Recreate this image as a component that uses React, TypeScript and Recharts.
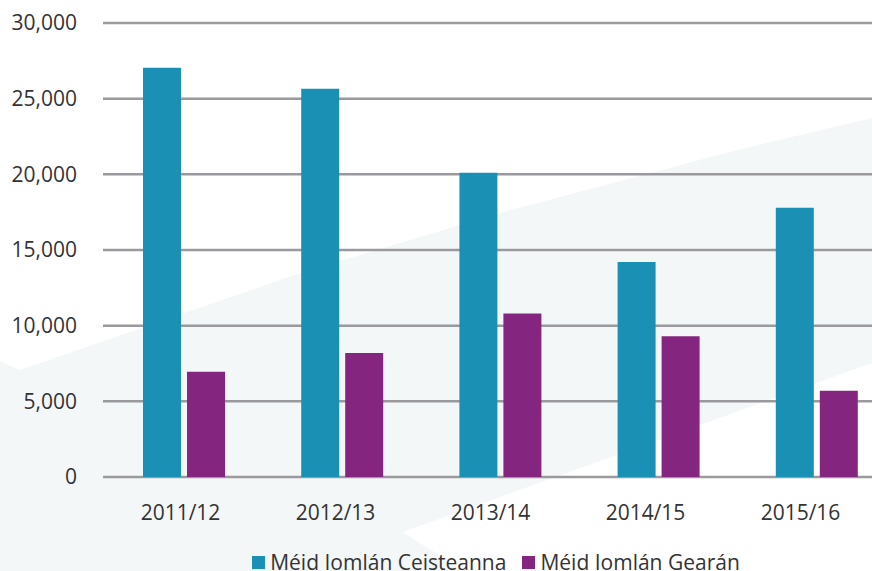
import { BarChart, Bar, XAxis, YAxis, CartesianGrid, Legend } from "recharts";

const years = ["2011/12", "2012/13", "2013/14", "2014/15", "2015/16"];
const ceisteanna = [27050, 25650, 20100, 14200, 17800];
const gearan = [6950, 8200, 10800, 9300, 5700];
const yTicks = [0, 5000, 10000, 15000, 20000, 25000, 30000];

const SERIES_A = "Méid Iomlán Ceisteanna";
const SERIES_B = "Méid Iomlán Gearán";
const TEAL = "#1a91b4";
const PURPLE = "#84267f";
const FONT = "'Open Sans', sans-serif";

const data = years.map((year, i) => ({
  year,
  [SERIES_A]: ceisteanna[i],
  [SERIES_B]: gearan[i],
}));

// decorative backdrop (light slanted band behind the plot)
const BACKDROP =
  "0,361 20,370 300,273 500,213 737,150 872,118 872,363 403,532 463,571 0,571";

function LegendRow() {
  const items = [
    { name: SERIES_A, color: TEAL },
    { name: SERIES_B, color: PURPLE },
  ];
  return (
    <div
      style={{
        paddingLeft: 96,
        display: "flex",
        justifyContent: "center",
        alignItems: "center",
        gap: 16,
        height: 34,
        fontFamily: FONT,
        fontSize: 21,
        color: "#333",
        whiteSpace: "nowrap",
      }}
    >
      {items.map((it) => (
        <span key={it.name} style={{ display: "flex", alignItems: "center" }}>
          <span
            style={{
              width: 13,
              height: 13,
              background: it.color,
              marginRight: 5,
              display: "inline-block",
            }}
          />
          {it.name}
        </span>
      ))}
    </div>
  );
}

export default function App() {
  return (
    <div
      style={{
        position: "absolute",
        left: 0,
        top: 0,
        width: 872,
        height: 571,
        overflow: "hidden",
        background: "#fff",
      }}
    >
      <svg
        width={872}
        height={571}
        style={{ position: "absolute", left: 0, top: 0 }}
      >
        <polygon points={BACKDROP} fill="#f4f7f8" />
      </svg>
      <div style={{ position: "absolute", left: 0, top: 0 }}>
        <BarChart
          width={896}
          height={571}
          data={data}
          margin={{ top: 23, right: 0, bottom: 0, left: 0 }}
          barSize={38}
          barGap={6}
        >
          <CartesianGrid vertical={false} stroke="#9a9a9e" strokeWidth={2.5} />
          <XAxis
            dataKey="year"
            xAxisId="bars"
            hide
            height={0}
            padding={{ left: 2, right: 0 }}
          />
          <XAxis
            dataKey="year"
            xAxisId="labels"
            height={60}
            padding={{ left: 0, right: 18 }}
            axisLine={false}
            tickLine={false}
            tickSize={0}
            tickMargin={28}
            interval={0}
            tick={{ fill: "#333", fontSize: 21, fontFamily: FONT }}
          />
          <YAxis
            width={103}
            domain={[0, 30000]}
            ticks={yTicks}
            axisLine={false}
            tickLine={false}
            tickSize={0}
            tickMargin={26}
            tickFormatter={(v: number) => v.toLocaleString("en-US")}
            tick={{ fill: "#333", fontSize: 21, fontFamily: FONT }}
          />
          <Legend
            verticalAlign="bottom"
            content={() => <LegendRow />}
            wrapperStyle={{ left: 0, width: 896, top: 545 }}
          />
          <Bar
            xAxisId="bars"
            dataKey={SERIES_A}
            fill={TEAL}
            isAnimationActive={false}
          />
          <Bar
            xAxisId="bars"
            dataKey={SERIES_B}
            fill={PURPLE}
            isAnimationActive={false}
          />
        </BarChart>
      </div>
    </div>
  );
}
